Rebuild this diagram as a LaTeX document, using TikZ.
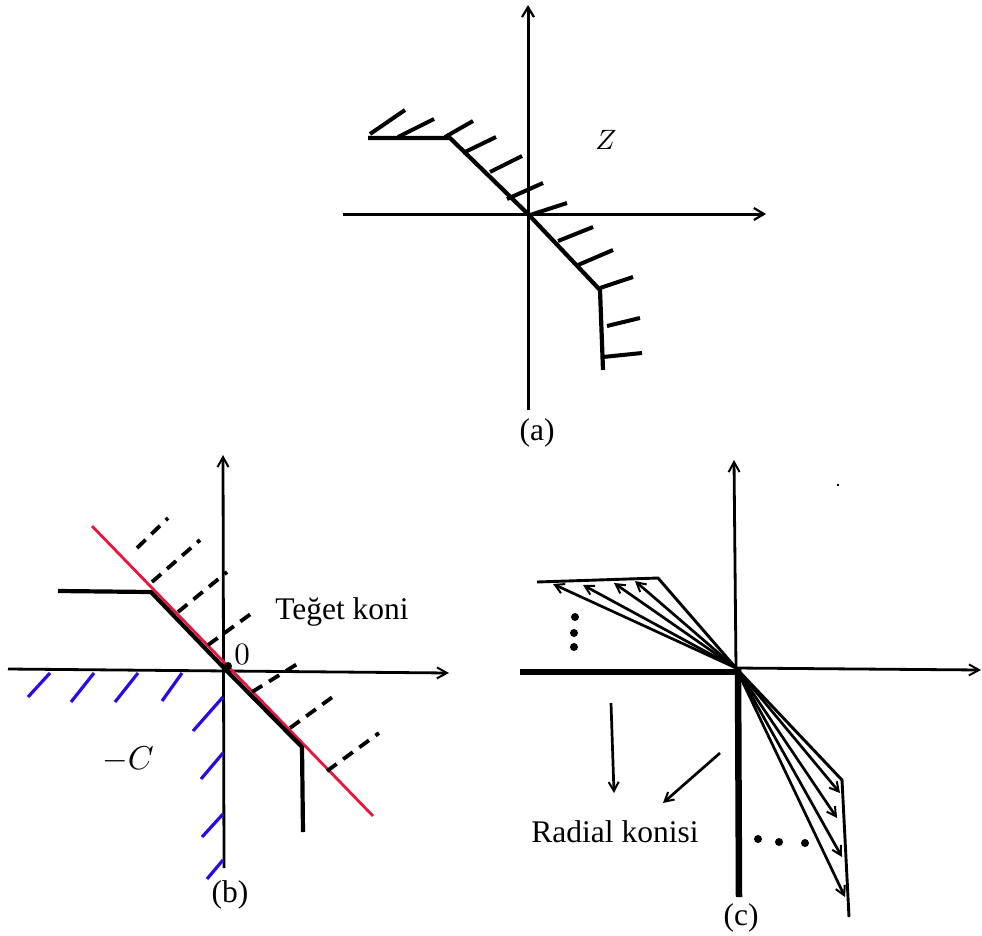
\documentclass[tikz,border=0pt]{standalone}
\usepackage{graphicx}
\usepackage{fontspec}
\setmainfont{Liberation Serif}
\usetikzlibrary{arrows.meta}
\definecolor{redline}{RGB}{235,20,60}
\definecolor{bluehatch}{RGB}{40,10,230}
\begin{document}
\begin{tikzpicture}[x=1pt,y=-1pt,
  axisA/.style={line width=3pt,-{Straight Barb[length=10pt,width=12pt,line width=2.2pt]}},
  axisB/.style={line width=2.8pt,-{Straight Barb[length=10pt,width=11pt,line width=2pt]}},
  bnd/.style={line width=4.2pt,line join=miter},
  hatch/.style={line width=4pt},
  dashhatch/.style={line width=3.8pt,dash pattern=on 12pt off 8pt},
  bluehatchst/.style={bluehatch,line width=3.2pt},
  ray/.style={line width=2.7pt,-{Straight Barb[length=9pt,width=10pt,line width=2pt]}},
  thickax/.style={line width=6.5pt},
  lbl/.style={font=\fontsize{31.5}{38}\selectfont,inner sep=0pt},
  mlbl/.style={font=\normalsize,inner sep=0pt},
  dotst/.style={circle,fill=black,inner sep=0pt,minimum size=8pt}
]
\useasboundingbox (0,0) rectangle (982,935);

% ---------------- panel (a) ----------------
\coordinate (aO) at (528,214);
\coordinate (aT) at (528,5);
\coordinate (aB) at (528,410);
\coordinate (aL) at (343,214);
\coordinate (aR) at (766,214);
\draw[axisA] (aB) -- (aT);
\draw[axisA] (aL) -- (aR);
\coordinate (a1) at (368,138);
\coordinate (a2) at (450,138);
\coordinate (a3) at (600,290);
\coordinate (a4) at (603,370);
\draw[bnd] (a1) -- (a2) -- (aO) -- (a3) -- (a4);
\foreach \x/\y/\u/\v in {370/134/405/110, 398/137/434/119, 445/137/473/121,
  463/153/496/137, 490/172/522/156, 507/199/543/183, 530/215/567/203,
  558/241/593/227, 578/265/613/250, 600/288/633/277,
  607/326/640/318, 603/357/642/353}
  \draw[hatch] (\x,\y) -- (\u,\v);
\node[mlbl] (aZ) at (606,140) {\scalebox{2.8}{$Z$}};
\node[lbl] (acap) at (537,433) {(a)};

% ---------------- panel (b) ----------------
\coordinate (bO) at (225,669);
\coordinate (bT) at (223,455);
\coordinate (bB) at (224,868);
\coordinate (bL) at (8,669);
\coordinate (bR) at (449,673);
\draw[axisB] (bB) -- (bT);
\draw[axisB] (bL) -- (bR);
\coordinate (r1) at (92,526);
\coordinate (r2) at (373,816);
\draw[redline,line width=2.8pt] (r1) -- (r2);
\coordinate (b1) at (58,591);
\coordinate (b2) at (151,592);
\coordinate (b3) at (302,747);
\coordinate (b4) at (303,832);
\draw[bnd] (b1) -- (b2) -- (bO) -- (b3) -- (b4);
\foreach \x/\y/\u/\v in {137/548/168/518, 152/582/200/540, 178/612/227/572,
  208/645/252/613, 252/692/302/661, 290/728/338/693, 327/771/379/733}
  \draw[dashhatch] (\x,\y) -- (\u,\v);
\foreach \x/\y/\u/\v in {28/697/50/673, 71/702/94/673, 115/702/138/673, 162/701/182/673,
  193/731/223/697, 201/779/223/753, 202/837/223/814, 207/879/223/860}
  \draw[bluehatchst] (\x,\y) -- (\u,\v);
\node[circle,fill=black,inner sep=0pt,minimum size=8pt] (bdot) at (228,666) {};
\node[mlbl] (bzero) at (242,654) {\scalebox{3.1}{$0$}};
\node[lbl] (bteg) at (342,612) {Teğet koni};
\node[mlbl] (bC) at (128,760) {\scalebox{3.3}{$-C$}};
\node[lbl] (bcap) at (230,895) {(b)};

% ---------------- panel (c) ----------------
\coordinate (cO) at (736,668);
\coordinate (cT) at (734,460);
\coordinate (cR) at (981,670);
\draw[axisB] (cO) -- (cT);
\draw[axisB] (cO) -- (cR);
\coordinate (cL) at (520,672);
\coordinate (cOh) at (738,672);
\coordinate (cOv) at (738,668);
\coordinate (cB) at (739,897);
\draw[thickax] (cL) -- (cOh);
\draw[thickax] (cOv) -- (cB);
\coordinate (c1) at (537,582);
\coordinate (c2) at (658,578);
\draw[line width=2.9pt,line join=miter] (c1) -- (c2) -- (cO);
\foreach \x/\y in {553/584, 583/585, 614/583, 635/581}
  \draw[ray] (cO) -- (\x,\y);
\coordinate (c3) at (842,780);
\coordinate (c4) at (849,917);
\draw[line width=2.9pt,line join=miter] (cO) -- (c3) -- (c4);
\foreach \x/\y in {840/793, 837/818, 842/857, 845/897}
  \draw[ray] (cO) -- (\x,\y);
\node[dotst] (vd1) at (575,617) {};
\node[dotst] (vd2) at (574,633) {};
\node[dotst] (vd3) at (574,647) {};
\node[dotst] (hd1) at (758,839) {};
\node[dotst] (hd2) at (779,842) {};
\node[dotst] (hd3) at (805,843) {};
\fill (837,484) rectangle (839,486);
\coordinate (ra1) at (611,703);
\coordinate (ra2) at (614,793);
\coordinate (rb1) at (720,753);
\coordinate (rb2) at (663,803);
\draw[ray] (ra1) -- (ra2);
\draw[ray] (rb1) -- (rb2);
\node[lbl] (crad) at (615,832) {Radial konisi};
\node[lbl] (ccap) at (741,918) {(c)};
\end{tikzpicture}
\end{document}
